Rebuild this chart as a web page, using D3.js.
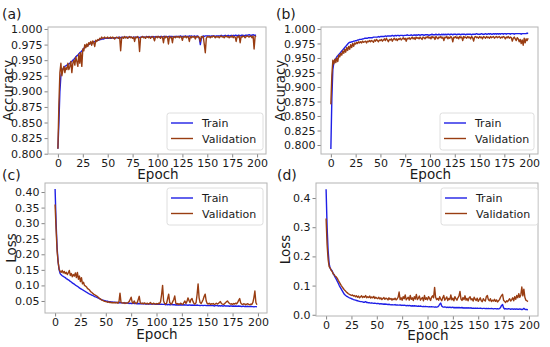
<!DOCTYPE html>
<html>
<head>
<meta charset="utf-8">
<script src="https://cdn.jsdelivr.net/npm/d3@7"></script>
<style>
  body { margin: 0; background: #fff; }
  text { font-family: "DejaVu Sans", sans-serif; fill: #1a1a1a; }
</style>
</head>
<body>
<div id="chart"></div>
<script>
const accTrainA = [
  0.808, 0.850, 0.900, 0.925, 0.932, 0.936, 0.938, 0.940, 0.941, 0.942,
  0.943, 0.944, 0.945, 0.947, 0.948, 0.950, 0.951, 0.953, 0.955, 0.957,
  0.958, 0.960, 0.962, 0.963, 0.965, 0.967, 0.969, 0.971, 0.972, 0.973,
  0.974, 0.975, 0.976, 0.977, 0.977, 0.978, 0.979, 0.980, 0.980, 0.981,
  0.982, 0.982, 0.983, 0.983, 0.984, 0.984, 0.984, 0.985, 0.985, 0.985,
  0.985, 0.985, 0.986, 0.985, 0.986, 0.986, 0.985, 0.986, 0.986, 0.986,
  0.986, 0.987, 0.986, 0.986, 0.987, 0.986, 0.987, 0.987, 0.986, 0.987,
  0.987, 0.986, 0.987, 0.987, 0.987, 0.986, 0.987, 0.987, 0.987, 0.987,
  0.987, 0.987, 0.986, 0.987, 0.987, 0.988, 0.987, 0.987, 0.987, 0.988,
  0.987, 0.988, 0.987, 0.987, 0.988, 0.987, 0.988, 0.987, 0.988, 0.987,
  0.988, 0.988, 0.987, 0.988, 0.988, 0.987, 0.988, 0.988, 0.988, 0.988,
  0.987, 0.988, 0.988, 0.988, 0.988, 0.988, 0.987, 0.988, 0.988, 0.988,
  0.988, 0.988, 0.988, 0.989, 0.988, 0.988, 0.988, 0.988, 0.989, 0.988,
  0.988, 0.988, 0.989, 0.988, 0.989, 0.988, 0.988, 0.989, 0.988, 0.988,
  0.989, 0.988, 0.985, 0.975, 0.984, 0.988, 0.989, 0.988, 0.989, 0.989,
  0.989, 0.989, 0.989, 0.988, 0.989, 0.989, 0.989, 0.989, 0.988, 0.989,
  0.989, 0.989, 0.989, 0.989, 0.990, 0.989, 0.989, 0.989, 0.990, 0.989,
  0.989, 0.990, 0.989, 0.989, 0.990, 0.989, 0.990, 0.989, 0.990, 0.990,
  0.989, 0.990, 0.990, 0.989, 0.990, 0.990, 0.990, 0.989, 0.990, 0.990,
  0.990, 0.990, 0.991, 0.990, 0.990, 0.990, 0.991, 0.990, 0.990, 0.990
];
const accValA = [
  0.808, 0.880, 0.930, 0.945, 0.925, 0.935, 0.940, 0.930, 0.938, 0.935,
  0.945, 0.935, 0.940, 0.948, 0.930, 0.945, 0.950, 0.942, 0.955, 0.948,
  0.940, 0.960, 0.945, 0.962, 0.940, 0.968, 0.965, 0.975, 0.970, 0.976,
  0.972, 0.978, 0.976, 0.980, 0.974, 0.981, 0.978, 0.972, 0.982, 0.980,
  0.983, 0.982, 0.985, 0.984, 0.987, 0.985, 0.986, 0.987, 0.985, 0.986,
  0.987, 0.985, 0.986, 0.987, 0.985, 0.987, 0.986, 0.984, 0.986, 0.987,
  0.986, 0.985, 0.987, 0.965, 0.986, 0.987, 0.985, 0.988, 0.986, 0.987,
  0.985, 0.987, 0.988, 0.986, 0.987, 0.985, 0.987, 0.980, 0.987, 0.986,
  0.988, 0.985, 0.964, 0.986, 0.987, 0.988, 0.986, 0.987, 0.985, 0.988,
  0.987, 0.986, 0.988, 0.985, 0.987, 0.988, 0.986, 0.981, 0.987, 0.988,
  0.986, 0.988, 0.987, 0.985, 0.988, 0.987, 0.978, 0.988, 0.986, 0.988,
  0.987, 0.976, 0.988, 0.986, 0.987, 0.978, 0.988, 0.987, 0.986, 0.988,
  0.987, 0.988, 0.986, 0.988, 0.987, 0.982, 0.988, 0.987, 0.988, 0.986,
  0.988, 0.987, 0.980, 0.988, 0.986, 0.988, 0.987, 0.988, 0.984, 0.988,
  0.987, 0.988, 0.986, 0.980, 0.988, 0.987, 0.988, 0.975, 0.962, 0.985,
  0.988, 0.987, 0.988, 0.986, 0.988, 0.987, 0.989, 0.988, 0.986, 0.988,
  0.987, 0.988, 0.986, 0.988, 0.989, 0.987, 0.988, 0.986, 0.988, 0.989,
  0.987, 0.988, 0.986, 0.988, 0.987, 0.989, 0.986, 0.988, 0.987, 0.980,
  0.988, 0.987, 0.989, 0.978, 0.988, 0.987, 0.989, 0.988, 0.986, 0.988,
  0.989, 0.988, 0.987, 0.989, 0.988, 0.986, 0.989, 0.968, 0.988, 0.989
];
const accTrainB = [
  0.793, 0.880, 0.930, 0.942, 0.946, 0.949, 0.952, 0.954, 0.956, 0.958,
  0.960, 0.962, 0.964, 0.966, 0.968, 0.970, 0.972, 0.974, 0.976, 0.977,
  0.977, 0.978, 0.978, 0.979, 0.979, 0.980, 0.980, 0.981, 0.981, 0.982,
  0.982, 0.982, 0.983, 0.983, 0.984, 0.984, 0.984, 0.984, 0.985, 0.985,
  0.985, 0.985, 0.985, 0.986, 0.986, 0.986, 0.986, 0.986, 0.987, 0.986,
  0.987, 0.987, 0.987, 0.987, 0.987, 0.988, 0.987, 0.988, 0.988, 0.988,
  0.988, 0.988, 0.989, 0.988, 0.988, 0.989, 0.988, 0.989, 0.989, 0.988,
  0.989, 0.989, 0.989, 0.988, 0.989, 0.989, 0.989, 0.990, 0.989, 0.989,
  0.989, 0.990, 0.989, 0.989, 0.990, 0.989, 0.990, 0.989, 0.990, 0.990,
  0.989, 0.990, 0.990, 0.990, 0.989, 0.990, 0.990, 0.990, 0.990, 0.989,
  0.990, 0.990, 0.991, 0.990, 0.990, 0.990, 0.991, 0.990, 0.990, 0.991,
  0.990, 0.990, 0.991, 0.990, 0.991, 0.990, 0.991, 0.990, 0.991, 0.991,
  0.990, 0.991, 0.991, 0.990, 0.991, 0.991, 0.991, 0.990, 0.991, 0.991,
  0.991, 0.990, 0.991, 0.991, 0.991, 0.991, 0.990, 0.991, 0.991, 0.991,
  0.991, 0.991, 0.990, 0.991, 0.991, 0.991, 0.991, 0.992, 0.991, 0.991,
  0.991, 0.991, 0.992, 0.991, 0.991, 0.991, 0.992, 0.991, 0.991, 0.992,
  0.991, 0.992, 0.991, 0.991, 0.992, 0.991, 0.992, 0.991, 0.992, 0.991,
  0.992, 0.991, 0.992, 0.992, 0.991, 0.992, 0.992, 0.991, 0.992, 0.992,
  0.992, 0.991, 0.992, 0.992, 0.992, 0.991, 0.992, 0.992, 0.992, 0.992,
  0.992, 0.992, 0.991, 0.992, 0.992, 0.992, 0.992, 0.992, 0.993, 0.992
];
const accValB = [
  0.870, 0.920, 0.946, 0.940, 0.948, 0.942, 0.950, 0.944, 0.955, 0.952,
  0.958, 0.955, 0.962, 0.958, 0.965, 0.960, 0.968, 0.963, 0.970, 0.965,
  0.973, 0.968, 0.975, 0.970, 0.976, 0.974, 0.977, 0.975, 0.978, 0.976,
  0.978, 0.976, 0.979, 0.977, 0.978, 0.979, 0.976, 0.979, 0.978, 0.980,
  0.978, 0.980, 0.979, 0.977, 0.981, 0.979, 0.982, 0.980, 0.978, 0.981,
  0.980, 0.982, 0.979, 0.981, 0.983, 0.980, 0.984, 0.981, 0.978, 0.982,
  0.981, 0.983, 0.979, 0.982, 0.984, 0.981, 0.983, 0.980, 0.983, 0.982,
  0.984, 0.981, 0.983, 0.985, 0.982, 0.984, 0.979, 0.984, 0.983, 0.985,
  0.982, 0.984, 0.986, 0.983, 0.985, 0.982, 0.986, 0.984, 0.985, 0.983,
  0.986, 0.984, 0.982, 0.986, 0.985, 0.983, 0.986, 0.985, 0.987, 0.984,
  0.986, 0.983, 0.987, 0.985, 0.986, 0.982, 0.987, 0.985, 0.983, 0.986,
  0.985, 0.987, 0.984, 0.986, 0.980, 0.986, 0.985, 0.987, 0.983, 0.986,
  0.984, 0.987, 0.985, 0.978, 0.986, 0.985, 0.987, 0.984, 0.986, 0.983,
  0.987, 0.985, 0.986, 0.980, 0.987, 0.985, 0.986, 0.984, 0.987, 0.985,
  0.986, 0.983, 0.987, 0.985, 0.979, 0.986, 0.987, 0.985, 0.986, 0.984,
  0.987, 0.985, 0.986, 0.983, 0.987, 0.986, 0.984, 0.987, 0.985, 0.986,
  0.984, 0.987, 0.985, 0.986, 0.987, 0.984, 0.986, 0.987, 0.985, 0.986,
  0.987, 0.984, 0.986, 0.985, 0.987, 0.986, 0.983, 0.986, 0.985, 0.987,
  0.984, 0.986, 0.985, 0.979, 0.984, 0.986, 0.983, 0.980, 0.985, 0.983,
  0.978, 0.982, 0.975, 0.981, 0.972, 0.984, 0.976, 0.983, 0.980, 0.984
];
const lossTrainC = [
  0.410, 0.300, 0.220, 0.175, 0.150, 0.138, 0.134, 0.131, 0.129, 0.127,
  0.125, 0.122, 0.120, 0.118, 0.116, 0.113, 0.111, 0.108, 0.106, 0.104,
  0.101, 0.099, 0.097, 0.095, 0.092, 0.090, 0.088, 0.086, 0.084, 0.082,
  0.080, 0.078, 0.076, 0.074, 0.072, 0.071, 0.069, 0.068, 0.066, 0.064,
  0.063, 0.062, 0.060, 0.059, 0.057, 0.055, 0.054, 0.053, 0.052, 0.051,
  0.050, 0.049, 0.049, 0.048, 0.048, 0.047, 0.047, 0.046, 0.046, 0.046,
  0.045, 0.045, 0.045, 0.044, 0.045, 0.044, 0.044, 0.044, 0.043, 0.044,
  0.043, 0.043, 0.043, 0.042, 0.043, 0.042, 0.042, 0.043, 0.042, 0.042,
  0.042, 0.041, 0.042, 0.041, 0.041, 0.041, 0.042, 0.041, 0.041, 0.040,
  0.041, 0.040, 0.041, 0.040, 0.040, 0.041, 0.040, 0.040, 0.040, 0.039,
  0.040, 0.039, 0.040, 0.039, 0.039, 0.040, 0.039, 0.039, 0.039, 0.038,
  0.039, 0.038, 0.039, 0.038, 0.038, 0.039, 0.038, 0.038, 0.038, 0.037,
  0.038, 0.037, 0.038, 0.037, 0.038, 0.037, 0.037, 0.038, 0.037, 0.037,
  0.037, 0.036, 0.037, 0.037, 0.036, 0.037, 0.036, 0.037, 0.036, 0.036,
  0.037, 0.036, 0.036, 0.035, 0.036, 0.036, 0.035, 0.036, 0.036, 0.035,
  0.036, 0.035, 0.035, 0.036, 0.035, 0.035, 0.035, 0.034, 0.035, 0.035,
  0.035, 0.034, 0.035, 0.034, 0.035, 0.034, 0.034, 0.035, 0.034, 0.034,
  0.034, 0.034, 0.033, 0.034, 0.034, 0.033, 0.034, 0.033, 0.034, 0.033,
  0.033, 0.034, 0.033, 0.033, 0.032, 0.033, 0.033, 0.032, 0.033, 0.032,
  0.033, 0.032, 0.032, 0.033, 0.032, 0.032, 0.031, 0.032, 0.032, 0.031
];
const lossValC = [
  0.360, 0.280, 0.210, 0.175, 0.152, 0.145, 0.142, 0.148, 0.140, 0.145,
  0.138, 0.142, 0.135, 0.140, 0.148, 0.132, 0.138, 0.128, 0.135, 0.130,
  0.140, 0.125, 0.142, 0.120, 0.130, 0.112, 0.125, 0.105, 0.110, 0.100,
  0.098, 0.095, 0.090, 0.088, 0.085, 0.080, 0.078, 0.075, 0.072, 0.070,
  0.068, 0.066, 0.064, 0.060, 0.058, 0.056, 0.053, 0.052, 0.050, 0.049,
  0.048, 0.047, 0.046, 0.047, 0.045, 0.046, 0.044, 0.045, 0.044, 0.045,
  0.044, 0.046, 0.043, 0.048, 0.075, 0.046, 0.044, 0.043, 0.045, 0.042,
  0.044, 0.043, 0.045, 0.048, 0.055, 0.062, 0.046, 0.043, 0.050, 0.044,
  0.042, 0.045, 0.055, 0.065, 0.044, 0.042, 0.043, 0.041, 0.044, 0.042,
  0.041, 0.043, 0.040, 0.042, 0.045, 0.041, 0.040, 0.043, 0.041, 0.040,
  0.042, 0.040, 0.043, 0.041, 0.048, 0.070, 0.100, 0.050, 0.042, 0.040,
  0.043, 0.058, 0.072, 0.045, 0.041, 0.040, 0.048, 0.055, 0.066, 0.043,
  0.040, 0.042, 0.039, 0.041, 0.043, 0.040, 0.039, 0.045, 0.050, 0.042,
  0.048, 0.060, 0.052, 0.045, 0.055, 0.058, 0.048, 0.042, 0.040, 0.045,
  0.070, 0.105, 0.060, 0.045, 0.042, 0.048, 0.055, 0.065, 0.072, 0.050,
  0.042, 0.040, 0.043, 0.039, 0.041, 0.040, 0.042, 0.039, 0.040, 0.043,
  0.040, 0.042, 0.045, 0.048, 0.042, 0.040, 0.039, 0.041, 0.044, 0.048,
  0.050, 0.045, 0.042, 0.040, 0.041, 0.039, 0.042, 0.040, 0.043, 0.041,
  0.045, 0.052, 0.058, 0.044, 0.040, 0.039, 0.041, 0.040, 0.038, 0.040,
  0.041, 0.039, 0.038, 0.040, 0.039, 0.045, 0.060, 0.082, 0.045, 0.038
];
const lossTrainD = [
  0.430, 0.300, 0.220, 0.175, 0.160, 0.155, 0.150, 0.142, 0.135, 0.128,
  0.122, 0.115, 0.108, 0.100, 0.094, 0.088, 0.082, 0.076, 0.070, 0.067,
  0.064, 0.062, 0.060, 0.058, 0.057, 0.055, 0.054, 0.052, 0.051, 0.050,
  0.049, 0.048, 0.047, 0.046, 0.045, 0.045, 0.044, 0.043, 0.043, 0.045,
  0.042, 0.042, 0.041, 0.041, 0.040, 0.041, 0.040, 0.039, 0.040, 0.039,
  0.038, 0.039, 0.038, 0.037, 0.038, 0.037, 0.037, 0.036, 0.037, 0.036,
  0.036, 0.035, 0.036, 0.035, 0.034, 0.035, 0.034, 0.034, 0.035, 0.033,
  0.034, 0.033, 0.033, 0.034, 0.032, 0.033, 0.032, 0.033, 0.032, 0.031,
  0.032, 0.031, 0.032, 0.031, 0.030, 0.031, 0.030, 0.031, 0.030, 0.030,
  0.029, 0.030, 0.029, 0.030, 0.029, 0.028, 0.029, 0.028, 0.029, 0.028,
  0.028, 0.027, 0.028, 0.027, 0.028, 0.027, 0.027, 0.026, 0.027, 0.026,
  0.027, 0.030, 0.036, 0.040, 0.030, 0.027, 0.026, 0.027, 0.026, 0.025,
  0.026, 0.025, 0.026, 0.025, 0.025, 0.026, 0.024, 0.025, 0.024, 0.025,
  0.024, 0.025, 0.024, 0.024, 0.025, 0.023, 0.024, 0.023, 0.024, 0.023,
  0.024, 0.023, 0.023, 0.024, 0.022, 0.023, 0.022, 0.023, 0.022, 0.023,
  0.022, 0.022, 0.023, 0.022, 0.021, 0.022, 0.022, 0.021, 0.022, 0.021,
  0.022, 0.021, 0.021, 0.022, 0.021, 0.020, 0.021, 0.021, 0.020, 0.021,
  0.020, 0.021, 0.025, 0.032, 0.035, 0.024, 0.020, 0.021, 0.020, 0.020,
  0.021, 0.020, 0.019, 0.020, 0.020, 0.019, 0.020, 0.019, 0.020, 0.019,
  0.019, 0.020, 0.019, 0.018, 0.019, 0.022, 0.019, 0.018, 0.018, 0.017
];
const lossValD = [
  0.330, 0.240, 0.190, 0.165, 0.160, 0.152, 0.148, 0.140, 0.138, 0.132,
  0.130, 0.125, 0.118, 0.112, 0.106, 0.100, 0.095, 0.090, 0.085, 0.082,
  0.078, 0.075, 0.072, 0.070, 0.068, 0.066, 0.068, 0.064, 0.066, 0.062,
  0.065, 0.060, 0.064, 0.058, 0.062, 0.065, 0.059, 0.063, 0.060, 0.066,
  0.058, 0.062, 0.059, 0.064, 0.057, 0.061, 0.058, 0.063, 0.056, 0.060,
  0.057, 0.055, 0.060, 0.054, 0.058, 0.052, 0.056, 0.059, 0.053, 0.057,
  0.055, 0.051, 0.058, 0.053, 0.056, 0.050, 0.055, 0.052, 0.057, 0.051,
  0.054, 0.060, 0.078, 0.052, 0.058, 0.050, 0.062, 0.055, 0.068, 0.051,
  0.056, 0.060, 0.050, 0.066, 0.053, 0.058, 0.049, 0.062, 0.054, 0.070,
  0.052, 0.057, 0.064, 0.050, 0.055, 0.059, 0.048, 0.066, 0.053, 0.058,
  0.051, 0.062, 0.056, 0.049, 0.060, 0.065, 0.058, 0.094, 0.060, 0.052,
  0.056, 0.050, 0.062, 0.054, 0.048, 0.058, 0.066, 0.050, 0.055, 0.061,
  0.049, 0.056, 0.052, 0.068, 0.051, 0.057, 0.048, 0.062, 0.055, 0.050,
  0.058, 0.064, 0.080, 0.054, 0.049, 0.059, 0.052, 0.065, 0.050, 0.056,
  0.048, 0.058, 0.062, 0.051, 0.055, 0.047, 0.060, 0.053, 0.049, 0.057,
  0.046, 0.052, 0.058, 0.048, 0.045, 0.055, 0.050, 0.047, 0.062, 0.066,
  0.052, 0.048, 0.055, 0.045, 0.050, 0.047, 0.053, 0.046, 0.051, 0.044,
  0.048, 0.052, 0.060, 0.066, 0.070, 0.050, 0.046, 0.042, 0.048, 0.045,
  0.050, 0.055, 0.047, 0.052, 0.058, 0.048, 0.062, 0.053, 0.066, 0.058,
  0.072, 0.060, 0.068, 0.095, 0.065, 0.088, 0.060, 0.050, 0.048, 0.045
];

const epochTicks = [0, 25, 50, 75, 100, 125, 150, 175, 200];
const accTicks = [0.800, 0.825, 0.850, 0.875, 0.900, 0.925, 0.950, 0.975, 1.000];
const lossTicksC = [0.05, 0.10, 0.15, 0.20, 0.25, 0.30, 0.35, 0.40];
const lossTicksD = [0.0, 0.1, 0.2, 0.3, 0.4];
const seriesNames = ["Train", "Validation"];
const seriesColors = ["#1f1fe6", "#993d12"];

const width = 550;
const height = 347;

const svg = d3
  .select("#chart")
  .append("svg")
  .attr("width", width)
  .attr("height", height);

function drawPanel(p) {
  const x = d3.scaleLinear().domain([-9.95, 208.95]).range([p.x0, p.x1]);
  const y = d3.scaleLinear().domain(p.yDomain).range([p.y1, p.y0]);
  const g = svg.append("g");

  const xAxis = g
    .append("g")
    .attr("transform", `translate(0, ${p.y1})`)
    .call(d3.axisBottom(x).tickValues(epochTicks).tickSize(3.5).tickPadding(1.5));

  const yAxis = g
    .append("g")
    .attr("transform", `translate(${p.x0}, 0)`)
    .call(
      d3.axisLeft(y).tickValues(p.yTicks).tickFormat(d3.format(p.fmt)).tickSize(3.5).tickPadding(2)
    );

  [xAxis, yAxis].forEach((a) => {
    a.select(".domain").remove();
    a.selectAll(".tick line").attr("stroke", "#666").attr("stroke-width", 0.8);
    a.selectAll(".tick text")
      .attr("font-size", 11)
      .attr("font-family", "DejaVu Sans")
      .attr("fill", "#1a1a1a");
  });

  const line = d3
    .line()
    .x((d, i) => x(i))
    .y((d) => y(d));

  p.series.forEach((s, k) => {
    g.append("path")
      .datum(s)
      .attr("fill", "none")
      .attr("stroke", seriesColors[k])
      .attr("stroke-width", 1.4)
      .attr("stroke-linejoin", "round")
      .attr("d", line);
  });

  g.append("rect")
    .attr("x", p.x0)
    .attr("y", p.y0)
    .attr("width", p.x1 - p.x0)
    .attr("height", p.y1 - p.y0)
    .attr("fill", "none")
    .attr("stroke", "#b4b4b4")
    .attr("stroke-width", 1);

  // legend
  const lg = g.append("g").attr("transform", `translate(${p.legend[0]}, ${p.legend[1]})`);
  lg.append("rect")
    .attr("width", p.legendW)
    .attr("height", 37)
    .attr("rx", 2.5)
    .attr("fill", "#fff")
    .attr("fill-opacity", 0.8)
    .attr("stroke", "#d6d6d6")
    .attr("stroke-width", 0.8);
  seriesNames.forEach((name, k) => {
    const cy = 10 + k * 15.5;
    lg.append("line")
      .attr("x1", 4)
      .attr("x2", 26)
      .attr("y1", cy)
      .attr("y2", cy)
      .attr("stroke", seriesColors[k])
      .attr("stroke-width", 1.4);
    lg.append("text")
      .attr("x", 35)
      .attr("y", cy + 4)
      .attr("font-size", 11)
      .text(name);
  });

  g.append("text")
    .attr("x", (p.x0 + p.x1) / 2 + 1)
    .attr("y", p.xLabelY)
    .attr("text-anchor", "middle")
    .attr("font-size", 13.5)
    .text("Epoch");

  g.append("text")
    .attr("transform", `translate(${p.yLabelX}, ${(p.y0 + p.y1) / 2}) rotate(-90)`)
    .attr("text-anchor", "middle")
    .attr("font-size", 13.5)
    .text(p.yLabel);

  g.append("text")
    .attr("x", p.tag[0])
    .attr("y", p.tag[1])
    .attr("font-size", 14)
    .text(p.tagText);
}

drawPanel({
  x0: 48, x1: 266, y0: 27, y1: 154,
  yDomain: [0.7995, 1.0032], yTicks: accTicks, fmt: ".3f",
  series: [accTrainA, accValA],
  legend: [167, 113], legendW: 96,
  xLabelY: 179, yLabelX: 13, yLabel: "Accuracy",
  tag: [2, 19], tagText: "(a)"
});

drawPanel({
  x0: 321, x1: 538, y0: 27, y1: 154,
  yDomain: [0.7845, 1.0034], yTicks: accTicks, fmt: ".3f",
  series: [accTrainB, accValB],
  legend: [440, 113], legendW: 94,
  xLabelY: 179, yLabelX: 285, yLabel: "Accuracy",
  tag: [276, 19], tagText: "(b)"
});

drawPanel({
  x0: 45, x1: 267, y0: 183, y1: 313,
  yDomain: [0.0114, 0.429], yTicks: lossTicksC, fmt: ".2f",
  series: [lossTrainC, lossValC],
  legend: [167, 188], legendW: 96,
  xLabelY: 339, yLabelX: 16, yLabel: "Loss",
  tag: [2, 180], tagText: "(c)"
});

drawPanel({
  x0: 316, x1: 538, y0: 183, y1: 316,
  yDomain: [-0.0042, 0.4515], yTicks: lossTicksD, fmt: ".1f",
  series: [lossTrainD, lossValD],
  legend: [441, 188], legendW: 97,
  xLabelY: 340, yLabelX: 290, yLabel: "Loss",
  tag: [277, 180], tagText: "(d)"
});
</script>
</body>
</html>
